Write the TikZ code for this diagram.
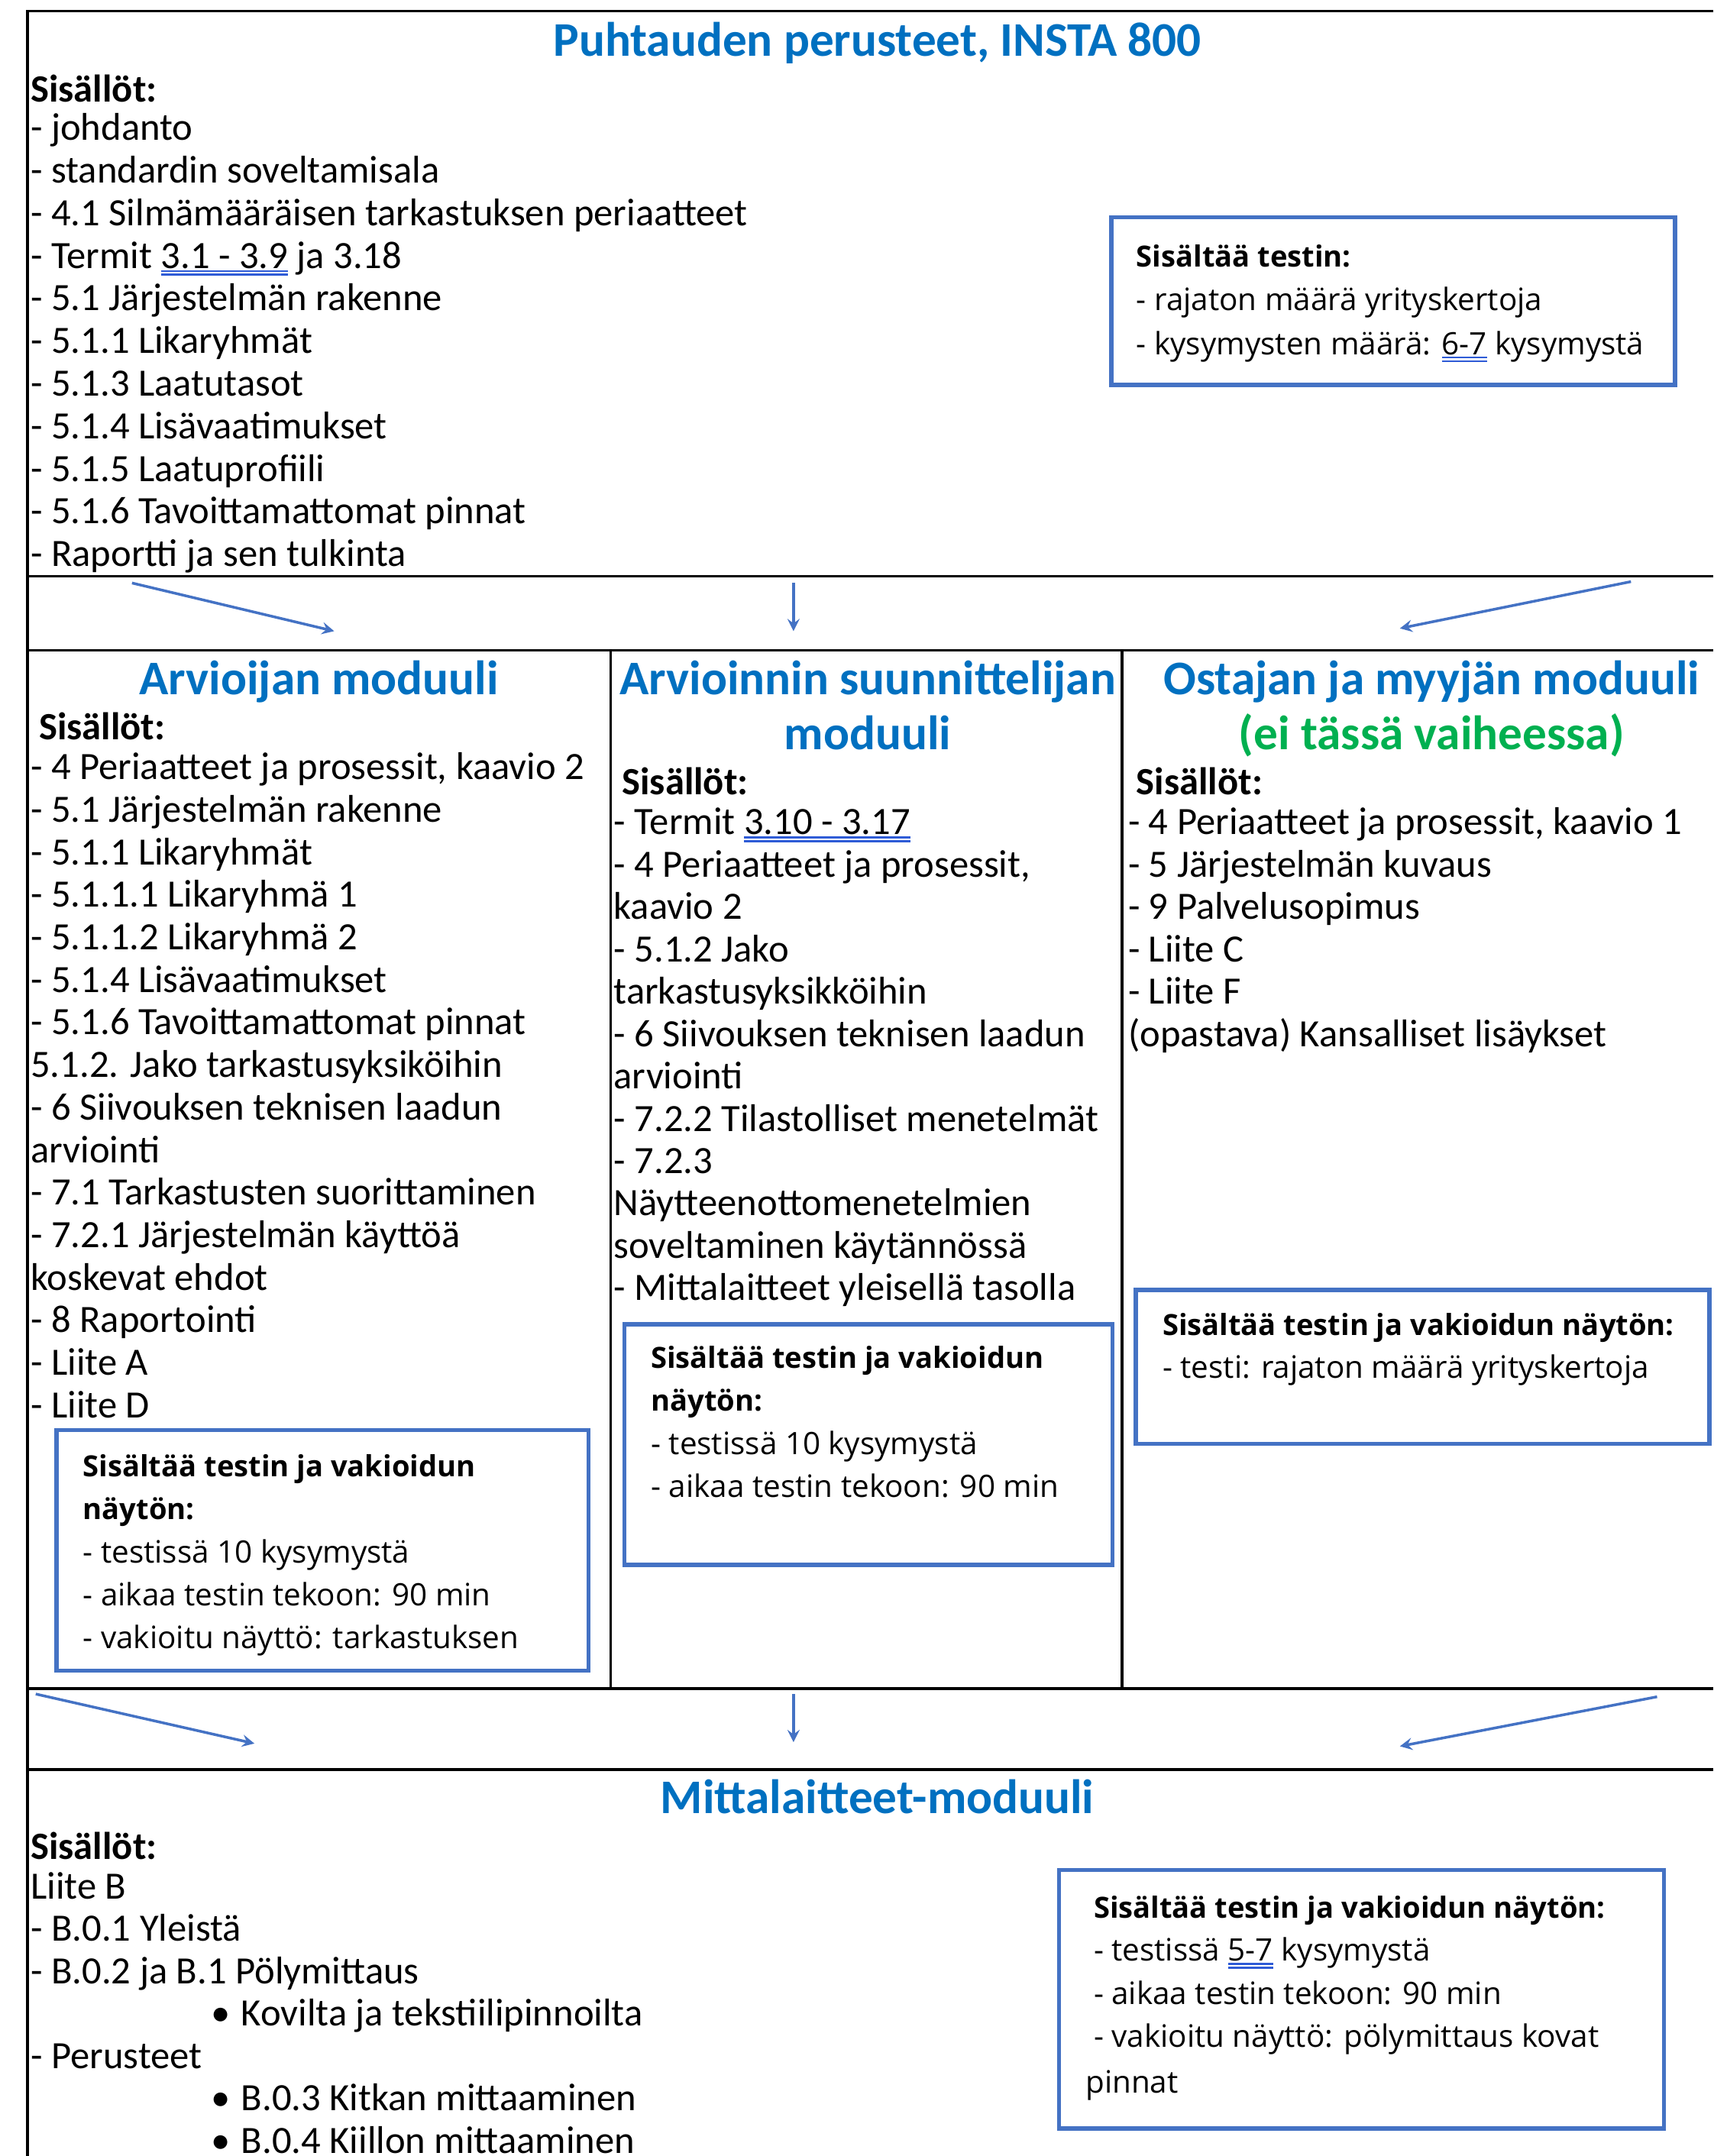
\documentclass[tikz,border=0pt]{standalone}
\usepackage{fontspec}
\setmainfont{Carlito}
\newfontfamily\boxfont{Open Sans}
\definecolor{titleblue}{HTML}{0070C0}
\definecolor{stepgreen}{HTML}{00B050}
\definecolor{boxblue}{HTML}{4472C4}
\definecolor{ulblue}{HTML}{2E5BD6}
\newcommand\dul[1]{\vtop{\hbox{#1}\kern0.6pt{\color{ulblue}\hrule height 0.7pt\kern0.7pt\hrule height 0.7pt}}}

\begin{document}
\begin{tikzpicture}[x=0.01801cm,y=-0.01801cm]
    \tikzstyle{rule}=[draw=black,line width=1pt]
    \tikzstyle{title}=[text=titleblue,font=\bfseries\fontsize{18}{21}\selectfont,inner sep=0pt,anchor=base]
    \tikzstyle{txt}=[font=\fontsize{14.4}{17}\selectfont,inner sep=0pt,anchor=base west]
    \tikzstyle{head}=[txt,font=\bfseries\fontsize{14.4}{17}\selectfont]
    \tikzstyle{testbox}=[draw=boxblue,line width=1.6pt]
    \tikzstyle{boxtxt}=[font=\boxfont\fontsize{11.5}{14}\selectfont,inner sep=0pt,anchor=base west]
    \tikzstyle{boxhead}=[boxtxt,font=\boxfont\bfseries\fontsize{10.85}{14}\selectfont]
    \tikzstyle{link}=[draw=boxblue,line width=1pt,-stealth]

    \useasboundingbox (0,0) rectangle (1246,1568);

    % table lines
    \draw[rule] (1246,8) -- (20,8) -- (20,1568);
    \foreach \y in {419,473,1228,1287}
        \draw[rule] (20,\y) -- (1246,\y);
    \foreach \x in {444,816}
        \draw[rule] (\x,473) -- (\x,1228);

    % arrows between the rows
    \foreach \n/\a/\b/\c/\d in {1/96/424/243/459, 2/577/424/577/459, 3/1186/423/1018/457,
                                4/26/1232/185/1268, 5/577/1232/577/1267, 6/1205/1234/1018/1270}
    {
        \coordinate (S-\n) at (\a,\b);
        \coordinate (E-\n) at (\c,\d);
        \draw[link] (S-\n) -- (E-\n);
    }

    % Puhtauden perusteet
    \node[title] (P-0) at (638,41) {Puhtauden perusteet, INSTA 800};
    \node[head] (P-1) at (22,74) {Sisällöt:};
    \foreach \lbl [count=\i from 2] in {- johdanto, - standardin soveltamisala,
            - 4.1 Silmämääräisen tarkastuksen periaatteet, - Termit \dul{3.1 - 3.9} ja 3.18,
            - 5.1 Järjestelmän rakenne, - 5.1.1 Likaryhmät, - 5.1.3 Laatutasot,
            - 5.1.4 Lisävaatimukset, - 5.1.5 Laatuprofiili, - 5.1.6 Tavoittamattomat pinnat,
            - Raportti ja sen tulkinta}
        \node[txt] (P-\i) at (22,{102+31*(\i-2)}) {\lbl};

    \draw[testbox] (808,158) rectangle (1218,280);
    \node[boxhead] (PB-1) at (826,194) {Sisältää testin:};
    \node[boxtxt] (PB-2) at (826,226) {- rajaton määrä yrityskertoja};
    \node[boxtxt] (PB-3) at (826,258) {- kysymysten määrä: \dul{6-7} kysymystä};

    % Arvioijan moduuli
    \node[title] (A-0) at (232,505) {Arvioijan moduuli};
    \node[head] (A-1) at (28,538) {Sisällöt:};
    \foreach \lbl [count=\i from 2] in {{- 4 Periaatteet ja prosessit, kaavio 2},
            - 5.1 Järjestelmän rakenne, - 5.1.1 Likaryhmät, - 5.1.1.1 Likaryhmä 1,
            - 5.1.1.2 Likaryhmä 2, - 5.1.4 Lisävaatimukset, - 5.1.6 Tavoittamattomat pinnat,
            5.1.2. Jako tarkastusyksiköihin, - 6 Siivouksen teknisen laadun, arviointi,
            - 7.1 Tarkastusten suorittaminen, - 7.2.1 Järjestelmän käyttöä, koskevat ehdot,
            - 8 Raportointi, - Liite A, - Liite D}
        \node[txt] (A-\i) at (22,{567+30.93*(\i-2)}) {\lbl};

    \draw[testbox] (41,1040) rectangle (428,1215);
    \foreach \s/\lbl [count=\i] in {boxhead/Sisältää testin ja vakioidun, boxhead/näytön:,
            boxtxt/- testissä 10 kysymystä, boxtxt/- aikaa testin tekoon: 90 min,
            boxtxt/- vakioitu näyttö: tarkastuksen}
        \node[\s] (AB-\i) at (60,{1074+31.25*(\i-1)}) {\lbl};

    % Arvioinnin suunnittelijan moduuli
    \node[title] (S-0) at (631,505) {Arvioinnin suunnittelijan};
    \node[title] (S-00) at (631,545) {moduuli};
    \node[head] (S-1) at (452,578) {Sisällöt:};
    \foreach \lbl [count=\i from 2] in {- Termit \dul{3.10 - 3.17}, {- 4 Periaatteet ja prosessit,},
            kaavio 2, - 5.1.2 Jako, tarkastusyksikköihin, - 6 Siivouksen teknisen laadun,
            arviointi, - 7.2.2 Tilastolliset menetelmät, - 7.2.3, Näytteenottomenetelmien,
            soveltaminen käytännössä, - Mittalaitteet yleisellä tasolla}
        \node[txt] (S-\i) at (446,{607+30.8*(\i-2)}) {\lbl};

    \draw[testbox] (454,963) rectangle (809,1138);
    \foreach \s/\lbl [count=\i] in {boxhead/Sisältää testin ja vakioidun, boxhead/näytön:,
            boxtxt/- testissä 10 kysymystä, boxtxt/- aikaa testin tekoon: 90 min}
        \node[\s] (SB-\i) at (473,{995+31.3*(\i-1)}) {\lbl};

    % Ostajan ja myyjan moduuli
    \node[title] (O-0) at (1041,505) {Ostajan ja myyjän moduuli};
    \node[title,text=stepgreen] (O-00) at (1041,545) {(ei tässä vaiheessa)};
    \node[head] (O-1) at (826,578) {Sisällöt:};
    \foreach \lbl [count=\i from 2] in {{- 4 Periaatteet ja prosessit, kaavio 1},
            - 5 Järjestelmän kuvaus, - 9 Palvelusopimus, - Liite C, - Liite F,
            (opastava) Kansalliset lisäykset}
        \node[txt] (O-\i) at (820,{607+30.8*(\i-2)}) {\lbl};

    \draw[testbox] (826,938) rectangle (1243,1050);
    \node[boxhead] (OB-1) at (845,971) {Sisältää testin ja vakioidun näytön:};
    \node[boxtxt] (OB-2) at (845,1002) {- testi: rajaton määrä yrityskertoja};

    % Mittalaitteet-moduuli
    \node[title] (M-0) at (638,1319) {Mittalaitteet-moduuli};
    \node[head] (M-1) at (22,1352) {Sisällöt:};
    \foreach \x/\lbl [count=\i from 2] in {22/Liite B, 22/- B.0.1 Yleistä, 22/- B.0.2 ja B.1 Pölymittaus,
            153/\makebox[0.396cm][l]{•}Kovilta ja tekstiilipinnoilta, 22/- Perusteet,
            153/\makebox[0.396cm][l]{•}B.0.3 Kitkan mittaaminen,
            153/\makebox[0.396cm][l]{•}B.0.4 Kiillon mittaaminen}
        \node[txt] (M-\i) at (\x,{1381+30.8*(\i-2)}) {\lbl};

    \draw[testbox] (770,1360) rectangle (1210,1548);
    \foreach \s/\lbl [count=\i] in {boxhead/Sisältää testin ja vakioidun näytön:,
            boxtxt/- testissä \dul{5-7} kysymystä, boxtxt/- aikaa testin tekoon: 90 min,
            boxtxt/- vakioitu näyttö: pölymittaus kovat}
        \node[\s] (MB-\i) at (795,{1395+31.3*(\i-1)}) {\lbl};
    \node[boxtxt] (MB-5) at (789,1522) {pinnat};
\end{tikzpicture}
\end{document}
